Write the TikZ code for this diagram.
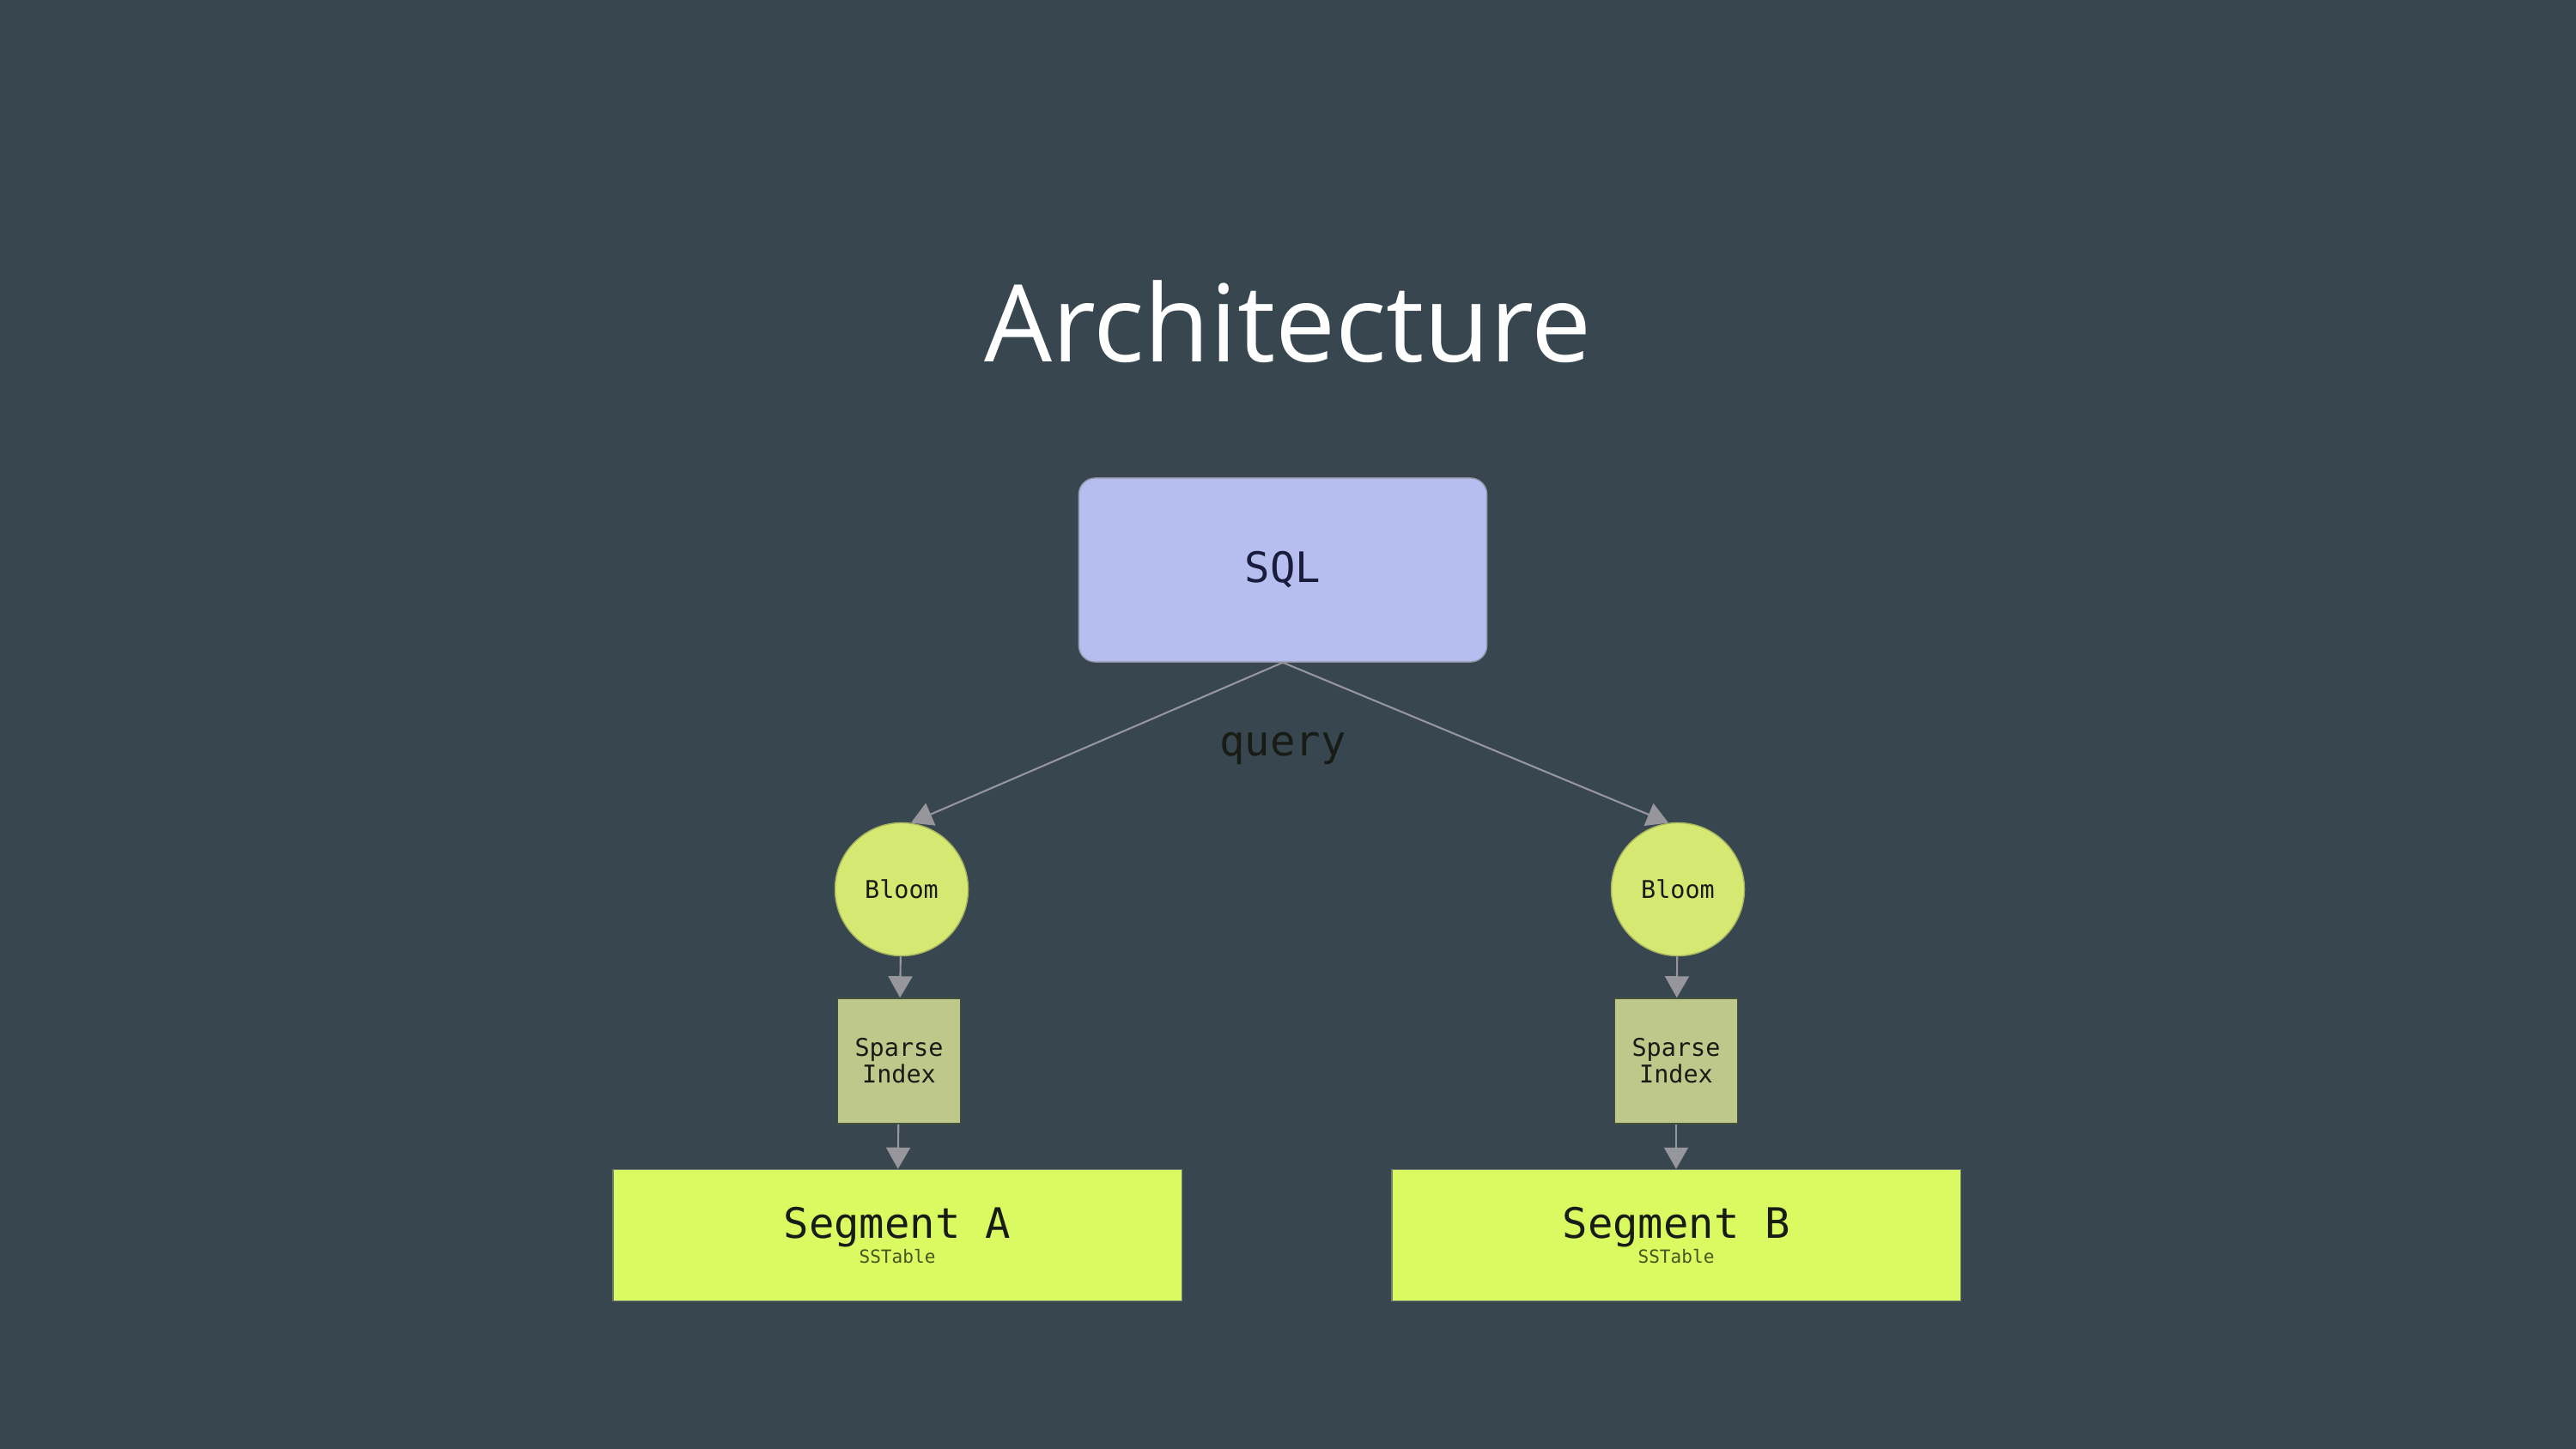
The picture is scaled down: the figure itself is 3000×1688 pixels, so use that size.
\documentclass[tikz,border=0pt]{standalone}
\usepackage{fontspec}
\setmainfont{Open Sans}
\setmonofont{DejaVu Sans Mono}
\usetikzlibrary{arrows.meta}

\definecolor{slate}{RGB}{55,70,79}
\definecolor{sqlblue}{RGB}{182,190,240}
\definecolor{sqlrim}{RGB}{150,152,172}
\definecolor{sqlink}{RGB}{26,28,62}
\definecolor{bloomgreen}{RGB}{212,232,114}
\definecolor{bloomrim}{RGB}{165,178,95}
\definecolor{indexolive}{RGB}{190,200,138}
\definecolor{indexrim}{RGB}{70,78,60}
\definecolor{seglime}{RGB}{218,250,98}
\definecolor{segrim}{RGB}{120,126,112}
\definecolor{edgegray}{RGB}{150,150,156}
\definecolor{inkdark}{RGB}{24,28,20}
\definecolor{subink}{RGB}{70,84,30}

\begin{document}
\begin{tikzpicture}[x=0.01cm,y=-0.01cm,
    sqlbox/.style={draw=sqlrim,fill=sqlblue,rounded corners=0.19cm,
      minimum width=4.75cm,minimum height=2.14cm,text=sqlink,
      font=\ttfamily\fontsize{13.9}{16}\selectfont},
    bloomnode/.style={circle,draw=bloomrim,fill=bloomgreen,inner sep=0pt,
      minimum size=1.55cm,text=inkdark,font=\ttfamily\fontsize{8.1}{9}\selectfont},
    indexbox/.style={draw=indexrim,fill=indexolive,inner sep=0pt,align=center,
      minimum width=1.43cm,minimum height=1.46cm,text=inkdark,
      font=\ttfamily\fontsize{8.1}{8.8}\selectfont},
    segbox/.style={draw=segrim,fill=seglime,inner sep=0pt,align=center,
      minimum width=6.62cm,minimum height=1.53cm,text=inkdark,
      font=\ttfamily\fontsize{13.9}{8.5}\selectfont},
    flow/.style={draw=edgegray,line width=0.6pt,
      -{Triangle[width=0.28cm,length=0.25cm]}}]
  \fill[slate] (0,0) rectangle (3000,1688);
  \useasboundingbox (0,0) rectangle (3000,1688);
  \draw
    (1500,421) node[anchor=base,text=white,font=\fontsize{35.5}{40}\selectfont] (title){Architecture}
    (1494,664) node[sqlbox] (sql){SQL}
    (1494,880) node[anchor=base,text=inkdark,font=\ttfamily\fontsize{13.9}{16}\selectfont] (query){query}
    (1050,1036) node[bloomnode] (bloomA){Bloom}
    (1954,1036) node[bloomnode] (bloomB){Bloom}
    (1047,1236) node[indexbox] (indexA){Sparse\\Index}
    (1952,1236) node[indexbox] (indexB){Sparse\\Index}
    (1045,1439) node[segbox] (segA){Segment A\\{\color{subink}\fontsize{6}{8.5}\selectfont SSTable}}
    (1952,1439) node[segbox] (segB){Segment B\\{\color{subink}\fontsize{6}{8.5}\selectfont SSTable}};
  \begin{scope}[flow]
    \draw (sql.south) to (bloomA.82);
    \draw (sql.south) to (bloomB.98);
    \draw (bloomA) to (indexA);
    \draw (bloomB) to (indexB);
    \draw (indexA) to (segA);
    \draw (indexB) to (segB);
  \end{scope}
\end{tikzpicture}
\end{document}
